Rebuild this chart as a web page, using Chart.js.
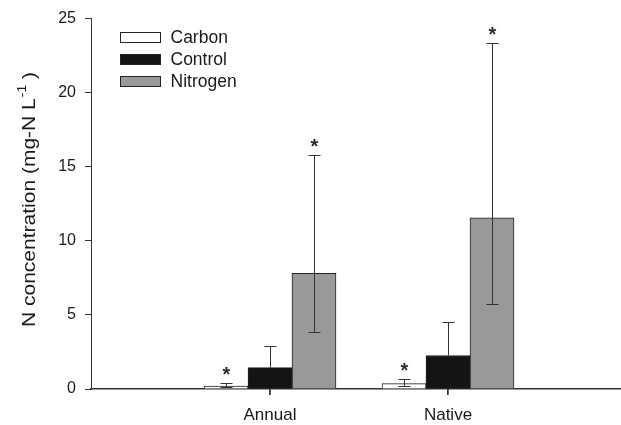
<!DOCTYPE html>
<html>
<head>
<meta charset="utf-8">
<script src="https://cdn.jsdelivr.net/npm/chart.js@4"></script>
<style>
  html, body { margin: 0; padding: 0; background: #ffffff; }
  canvas { display: block; }
</style>
</head>
<body>
<canvas id="c" width="621" height="425"></canvas>
<script>
// ---- data ----
const categories = ['Annual', 'Native'];
const seriesNames = ['Carbon', 'Control', 'Nitrogen'];
const carbon = [0.20, 0.36];
const control = [1.44, 2.26];
const nitrogen = [7.80, 11.56];
const carbonLow = [0.11, 0.18];
const carbonHigh = [0.43, 0.69];
const controlLow = [null, null];
const controlHigh = [2.89, 4.55];
const nitrogenLow = [3.86, 5.73];
const nitrogenHigh = [15.79, 23.37];
const carbonStar = [true, true];
const controlStar = [false, false];
const nitrogenStar = [true, true];
const yTicks = [0, 5, 10, 15, 20, 25];

const values = [carbon, control, nitrogen];
const lows = [carbonLow, controlLow, nitrogenLow];
const highs = [carbonHigh, controlHigh, nitrogenHigh];
const stars = [carbonStar, controlStar, nitrogenStar];
const fills = ['#ffffff', '#141414', '#999999'];

const FONT = '"Liberation Sans", Arial, Helvetica, sans-serif';
const AXIS = '#333333';

const datasets = seriesNames.map((name, d) => ({
  label: name,
  data: values[d].map((v, i) => ({ x: i + 1, y: v })),
  backgroundColor: fills[d],
  borderColor: '#222222',
  borderWidth: 1,
  barThickness: 44
}));

const errorBars = {
  id: 'errorBars',
  afterDatasetsDraw(chart) {
    const ctx = chart.ctx;
    const ys = chart.scales.y;
    ctx.save();
    ctx.strokeStyle = '#333333';
    ctx.lineWidth = 1;
    chart.data.datasets.forEach((ds, d) => {
      const meta = chart.getDatasetMeta(d);
      meta.data.forEach((el, i) => {
        const x = Math.round(el.x) + 0.5;
        const top = Math.round(ys.getPixelForValue(highs[d][i])) + 0.5;
        const lo = lows[d][i];
        const bottom = lo == null ? el.y : Math.round(ys.getPixelForValue(lo)) + 0.5;
        ctx.beginPath();
        ctx.moveTo(x, bottom);
        ctx.lineTo(x, top);
        ctx.moveTo(x - 6, top);
        ctx.lineTo(x + 6, top);
        if (lo != null) {
          ctx.moveTo(x - 6, bottom);
          ctx.lineTo(x + 6, bottom);
        }
        ctx.stroke();
        if (stars[d][i]) {
          ctx.fillStyle = '#2a2a2a';
          ctx.font = 'bold 20px ' + FONT;
          ctx.textAlign = 'center';
          ctx.textBaseline = 'alphabetic';
          ctx.fillText('*', x, top - 3);
        }
      });
    });
    ctx.restore();
  }
};

const legendAndTitle = {
  id: 'legendAndTitle',
  afterDraw(chart) {
    const ctx = chart.ctx;
    ctx.save();
    // category tick marks below the x axis, centred on each bar group
    ctx.fillStyle = '#333333';
    const axisY = Math.round(chart.chartArea.bottom);
    const first = chart.getDatasetMeta(0).data;
    const last = chart.getDatasetMeta(chart.data.datasets.length - 1).data;
    categories.forEach((c, i) => {
      if (!first[i] || !last[i]) return;
      const px = Math.round((first[i].x + last[i].x) / 2);
      ctx.fillRect(px - 0.75, axisY, 1.5, 6);
    });
    // legend
    const bx = 120.5, bw = 40, bh = 10;
    const rowY = [32.5, 54.5, 76.5];
    ctx.font = '17.5px ' + FONT;
    ctx.textAlign = 'left';
    ctx.textBaseline = 'middle';
    chart.data.datasets.forEach((ds, d) => {
      ctx.fillStyle = ds.backgroundColor;
      ctx.fillRect(bx, rowY[d], bw, bh);
      ctx.strokeStyle = '#222222';
      ctx.lineWidth = 1;
      ctx.strokeRect(bx, rowY[d], bw, bh);
      ctx.fillStyle = '#1a1a1a';
      ctx.fillText(ds.label, 170.5, rowY[d] + bh / 2 + 0.5);
    });
    // y-axis title with superscript
    ctx.translate(35, 327);
    ctx.rotate(-Math.PI / 2);
    ctx.scale(1, 0.9);
    ctx.fillStyle = '#1a1a1a';
    ctx.textAlign = 'left';
    ctx.textBaseline = 'alphabetic';
    const mainFont = '21px ' + FONT;
    const supFont = '14px ' + FONT;
    const t1 = 'N concentration (mg-N L';
    ctx.font = mainFont;
    ctx.fillText(t1, 0, 0);
    let w = ctx.measureText(t1).width;
    ctx.font = supFont;
    ctx.fillText('-1', w + 1, -10);
    w += ctx.measureText('-1').width + 1;
    ctx.font = mainFont;
    ctx.fillText(' )', w, 0);
    ctx.restore();
  }
};

new Chart(document.getElementById('c'), {
  type: 'bar',
  data: { datasets },
  options: {
    responsive: false,
    animation: false,
    events: [],
    layout: { padding: { top: 17, right: 1, bottom: 0, left: 0 } },
    plugins: { legend: { display: false }, tooltip: { enabled: false } },
    scales: {
      x: {
        type: 'linear',
        min: -0.0056,
        max: 2.9663,
        offset: false,
        afterBuildTicks(scale) {
          scale.ticks = categories.map((c, i) => ({ value: i + 1 }));
        },
        afterFit(scale) { scale.height = 36; },
        ticks: {
          autoSkip: false,
          maxRotation: 0,
          padding: 10,
          color: '#1a1a1a',
          font: { family: FONT, size: 17 },
          callback: (v, i) => categories[i]
        },
        grid: { offset: false, drawOnChartArea: false, drawTicks: true, tickLength: 6, color: AXIS },
        border: { display: true, color: AXIS, width: 1.5 }
      },
      y: {
        min: 0,
        max: 25,
        afterBuildTicks(scale) {
          scale.ticks = yTicks.map(v => ({ value: v }));
        },
        afterFit(scale) { scale.width = 91; },
        ticks: {
          padding: 9,
          color: '#1a1a1a',
          font: { family: FONT, size: 16 }
        },
        grid: { drawOnChartArea: false, drawTicks: true, tickLength: 6, color: AXIS },
        border: { display: true, color: AXIS, width: 1 }
      }
    }
  },
  plugins: [errorBars, legendAndTitle]
});
</script>
</body>
</html>
